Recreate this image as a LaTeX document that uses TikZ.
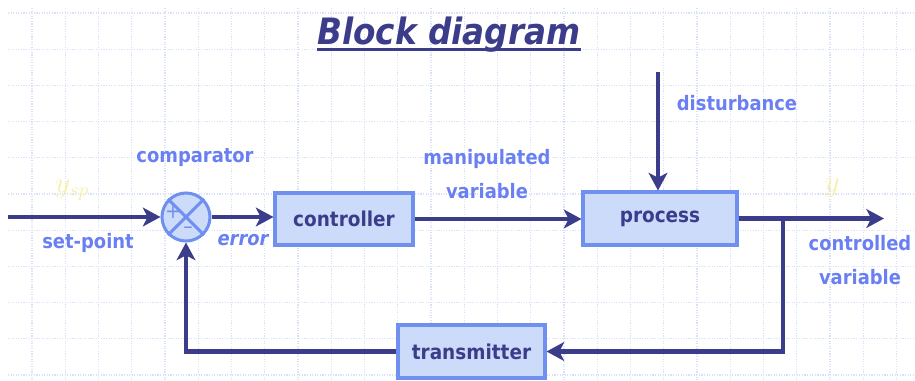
\documentclass[tikz,border=0pt]{standalone}
\usepackage{fontspec}
\setmainfont{DejaVu Sans Condensed}
\usetikzlibrary{arrows.meta,positioning}
\definecolor{navy}{HTML}{3B3C8A}
\definecolor{boxfill}{HTML}{CDDBFB}
\definecolor{boxline}{HTML}{7090F0}
\definecolor{lblue}{HTML}{6A80F2}
\definecolor{gridc}{HTML}{D8E0FA}
\definecolor{faint}{HTML}{F5EFA8}
\tikzset{
	block/.style={draw=boxline,fill=boxfill,line width=2.6pt,text=navy,font=\bfseries\fontsize{17.5}{17.5}\selectfont},
	signal/.style={draw=navy,line width=3.8pt,-{Stealth[length=15pt,width=16pt,inset=4pt]}},
	lbl/.style={text=lblue,align=center,font=\bfseries\fontsize{17}{29}\selectfont},
	gridline/.style={draw=gridc,line width=1pt,dash pattern=on 1pt off 1.2pt}
}
\begin{document}
\begin{tikzpicture}[x=0.03cm,y=-0.03cm]
	\useasboundingbox (0,0) rectangle (915,380);
	\foreach \i in {0,...,26}
		\draw[gridline] ({32+33.25*\i},8) -- ({32+33.25*\i},380);
	\foreach \j in {0,...,10}
		\draw[gridline] (8,{13+36.2*\j}) -- (915,{13+36.2*\j});

	\node[text=navy,inner sep=0pt,font=\bfseries\itshape\fontsize{31}{31}\selectfont] (title) at (449,35) {Block diagram};
	\draw[navy,line width=2pt] ([yshift=-4pt]title.base west) -- ([yshift=-4pt]title.base east);

	\node[circle,draw=boxline,fill=boxfill,line width=2.6pt,minimum size=1.44cm,inner sep=0pt] (cmp) at (186,217) {};
	\draw[boxline,line width=2.6pt] (cmp.45) -- (cmp.225);
	\draw[boxline,line width=2.6pt] (cmp.135) -- (cmp.315);
	\node[text=boxline,font=\fontsize{18}{18}\selectfont] (plus) at (173,212) {+};
	\node[text=boxline,font=\fontsize{18}{18}\selectfont] (minus) at (188,230) {\textendash};

	\node[block,minimum width=4.14cm,minimum height=1.56cm] (ctrl) at (344,219) {controller};
	\node[block,minimum width=4.62cm,minimum height=1.59cm] (proc) at (660,218.5) {process};
	\node[block,minimum width=4.41cm,minimum height=1.59cm] (trans) at (471.5,351.5) {transmitter};

	\coordinate (sp) at (8,217);
	\coordinate (out) at (884,218.5);
	\coordinate (br) at (783,218.5);
	\coordinate (dist) at (658,72);

	\draw[signal] (sp) -- (cmp.west);
	\draw[signal] (cmp.east) -- (cmp.east -| ctrl.west);
	\draw[signal] (ctrl.east) -- (ctrl.east -| proc.west);
	\draw[signal] (dist) -- (dist |- proc.north);
	\draw[signal] (proc.east) -- (out);
	\draw[signal] (br) |- (trans.east);
	\draw[signal] (trans.west) -| (cmp.south);

	\node[lbl] (lsp) at (88,243) {set-point};
	\node[lbl] (lcmp) at (195,158) {comparator};
	\node[lbl,font=\bfseries\itshape\fontsize{17}{17}\selectfont] (lerr) at (243,240) {error};
	\node[lbl] (lman) at (487,174) {manipulated\\variable};
	\node[lbl] (ldist) at (737,103) {disturbance};
	\node[lbl] (lcv) at (860,260) {controlled\\variable};
	\node[text=faint,font=\fontsize{26}{26}\selectfont] (ysp) at (72,190) {$y_{sp}$};
	\node[text=faint,font=\fontsize{26}{26}\selectfont] (yout) at (832,188) {$y$};
\end{tikzpicture}
\end{document}
